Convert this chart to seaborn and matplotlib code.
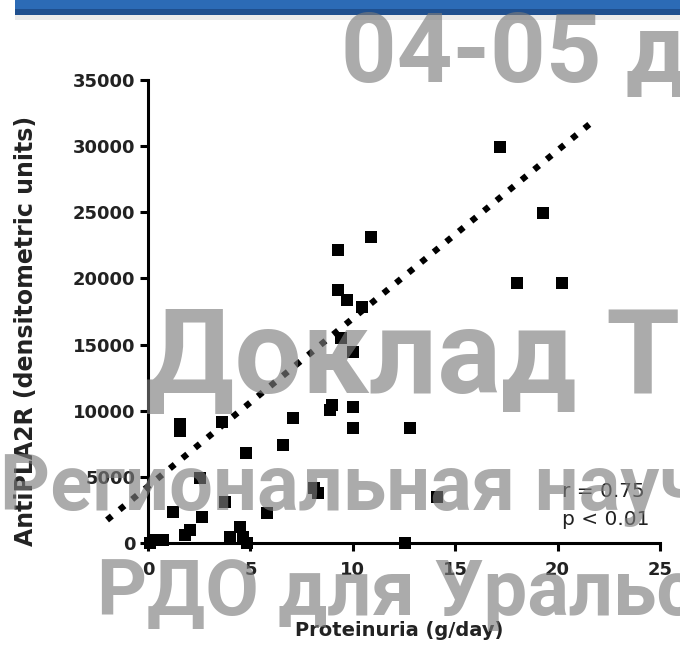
import matplotlib.pyplot as plt
from matplotlib.patches import Rectangle
import seaborn as sns
import pandas as pd

# values
proteinuria = [17.2, 19.3, 18.0, 20.2, 10.9, 9.3, 9.3, 9.7, 10.45, 9.4,
               10.0, 10.0, 10.0, 8.9, 9.0, 7.1, 6.6, 4.8, 12.8, 14.1,
               8.1, 8.3, 1.55, 1.55, 3.6, 2.55, 3.75, 1.2, 5.8, 2.65,
               2.05, 1.8, 4.5, 4.0, 4.65, 0.25, 0.75, 0.1, 4.85, 12.55]
antipla2r = [29950, 24950, 19650, 19650, 23150, 22150, 19150, 18350, 17850, 15500,
             14450, 10300, 8700, 10050, 10450, 9450, 7400, 6800, 8700, 3500,
             4150, 3800, 9000, 8450, 9150, 4900, 3100, 2350, 2250, 1950,
             1000, 600, 1200, 450, 450, 250, 250, 0, 0, 0]

fit_x = [-2.0, 21.7]
fit_slope = 1270
fit_intercept = 4280

x_ticks = [0, 5, 10, 15, 20, 25]
y_ticks = [0, 5000, 10000, 15000, 20000, 25000, 30000, 35000]
stats_text = ["r = 0.75", "p < 0.01"]
stats_y = [3930, 1740]

watermark_text = ["04-05 д", "Доклад Т", "Региональная науч", "РДО для Уральс"]

df = pd.DataFrame({"Proteinuria": proteinuria, "AntiPLA2R": antipla2r})
fit_y = [fit_intercept + fit_slope * v for v in fit_x]

sns.set_style("ticks")
plt.rcParams["font.family"] = ["DejaVu Sans"]

W, H = 680, 646
fig = plt.figure(figsize=(W / 100, H / 100), dpi=100)
fig.patch.set_facecolor("white")

# blue slide banner at the top
fig.patches.append(Rectangle((15 / W, 1 - 20 / H), 1, 6 / H, transform=fig.transFigure,
                             facecolor="#dcdcdc", edgecolor="none", alpha=0.6))
fig.patches.append(Rectangle((15 / W, 1 - 15 / H), 1, 15 / H, transform=fig.transFigure,
                             facecolor="#1f4f8e", edgecolor="none"))
fig.patches.append(Rectangle((15 / W, 1 - 9 / H), 1, 9 / H, transform=fig.transFigure,
                             facecolor="#2c6bb6", edgecolor="none"))

ax = fig.add_axes([148 / W, 1 - 543 / H, 512 / W, 463 / H])
ax.set_facecolor("none")

ax.plot(fit_x, fit_y, color="black", linewidth=4.5, linestyle=(0, (1, 1.6)),
        clip_on=False, zorder=2)
sns.scatterplot(data=df, x="Proteinuria", y="AntiPLA2R", ax=ax, marker="s",
                s=70, color="black", linewidth=0, clip_on=False, zorder=3)

ax.set_xlim(0, 25)
ax.set_ylim(0, 35000)
ax.set_xticks(x_ticks)
ax.set_yticks(y_ticks)
ax.set_xticklabels([str(t) for t in x_ticks], fontsize=13, fontweight="bold", color="#222222")
ax.set_yticklabels([str(t) for t in y_ticks], fontsize=13, fontweight="bold", color="#222222")
ax.tick_params(axis="both", length=6, width=2.2, color="black")
ax.tick_params(axis="x", pad=7)
ax.tick_params(axis="y", pad=3)

sns.despine(ax=ax)
for side in ["left", "bottom"]:
    ax.spines[side].set_linewidth(2.2)
    ax.spines[side].set_color("black")
    ax.spines[side].set_zorder(1)

ax.set_xlabel("Proteinuria (g/day)", fontsize=14, fontweight="bold", color="#222222")
ax.set_ylabel("AntiPLA2R (densitometric units)", fontsize=17, fontweight="bold", color="#222222")
ax.xaxis.set_label_coords(0.49, -0.168)
ax.yaxis.set_label_coords(-0.215, 0.458)

for txt, yv in zip(stats_text, stats_y):
    ax.text(20.2, yv, txt, fontsize=14.5, color="#222222", ha="left", va="center")

# watermark overlay of the slide
wm_pos = [(341, 82, 70), (145, 393, 86), (0, 510, 56), (97, 615, 56)]
for txt, (px, py, size) in zip(watermark_text, wm_pos):
    fig.text(px / W, 1 - py / H, txt, fontsize=size, fontweight="bold",
             family=["Roboto", "DejaVu Sans"], color="#7c7c7c", alpha=0.64,
             ha="left", va="baseline", zorder=10)

fig.savefig("out.png", dpi=100)
plt.close(fig)
